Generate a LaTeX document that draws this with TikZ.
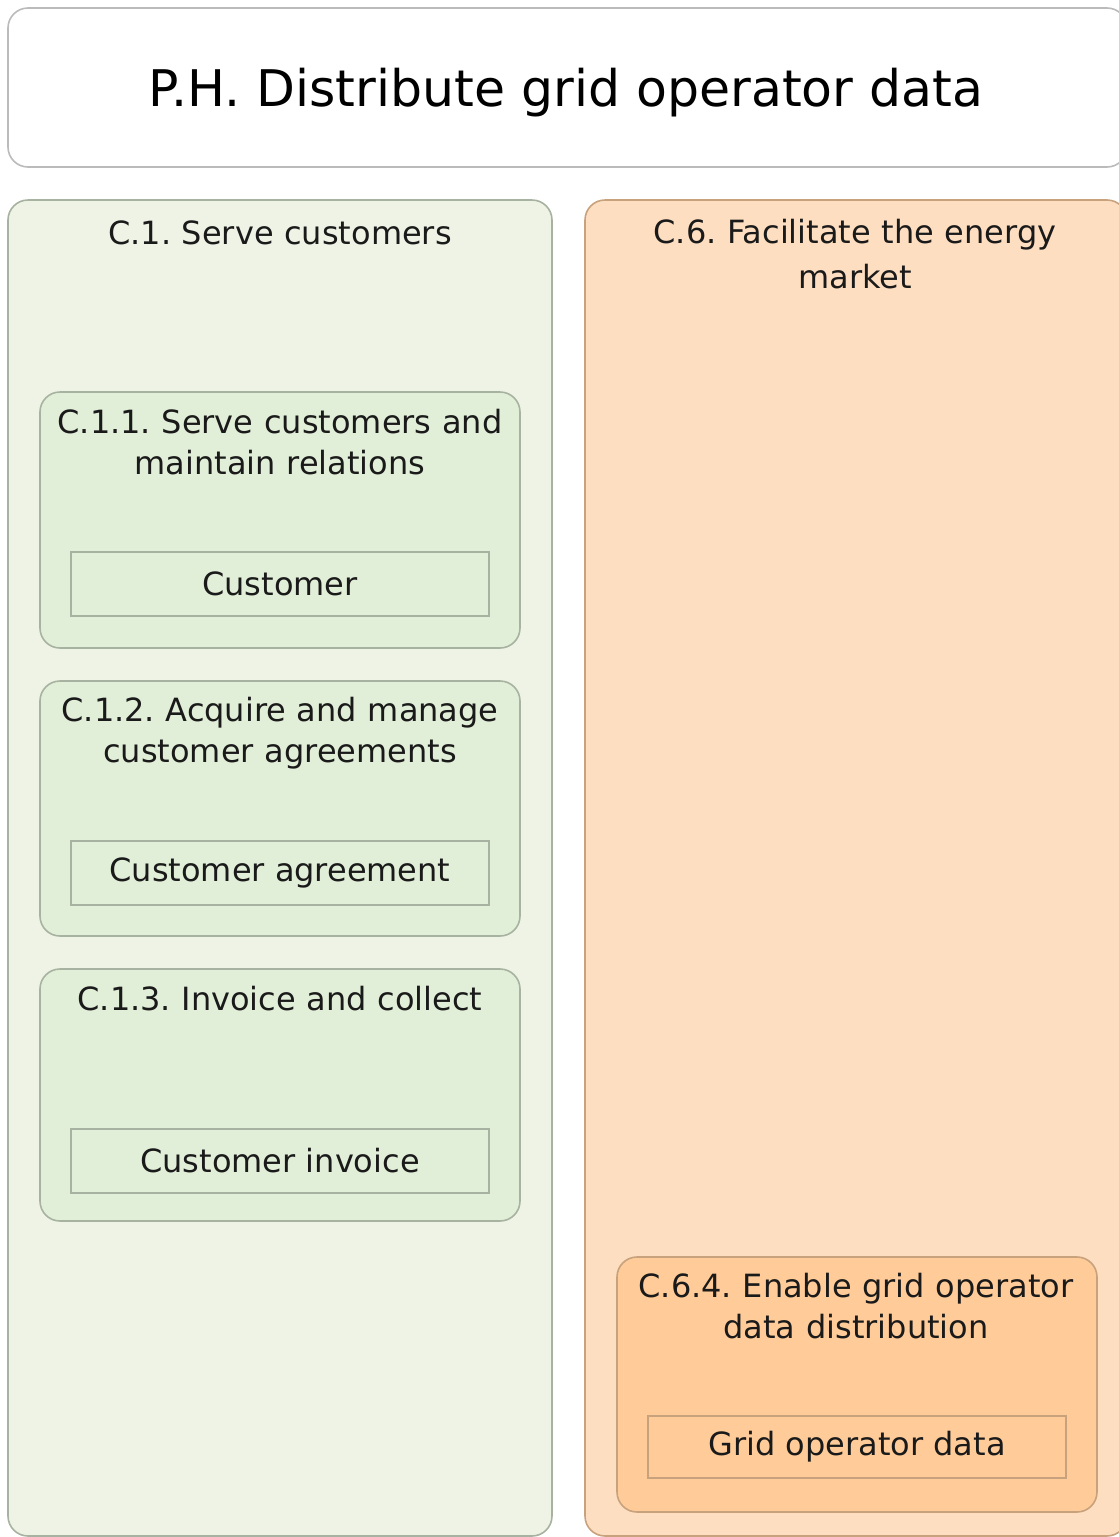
\documentclass[tikz,border=0pt]{standalone}
\usepackage{fontspec}
\setmainfont{DejaVu Sans}
\usepackage{tikz}
\usetikzlibrary{positioning}

\definecolor{greenouter}{HTML}{EEF3E5}
\definecolor{greeninner}{HTML}{E2EFD8}
\definecolor{greenline}{HTML}{A8B2A0}
\definecolor{peachouter}{HTML}{FDDEC1}
\definecolor{peachinner}{HTML}{FFCC99}
\definecolor{peachline}{HTML}{C8A27C}
\definecolor{greyline}{HTML}{BBBBBB}
\definecolor{textgrey}{HTML}{1A1A1A}

\begin{document}
\frenchspacing
\begin{tikzpicture}[x=1pt, y=-1pt, node distance=0pt,
    every node/.style={inner sep=0pt, outer sep=0pt, text=textgrey},
    panel/.style={draw, rounded corners=20pt, line width=1.6pt},
    entity/.style={draw, line width=1.4pt, minimum width=418pt},
    caption/.style={text width=470pt, align=center, anchor=base,
        font=\fontsize{32}{41}\selectfont}]
\useasboundingbox (0,0) rectangle (1119,1537);
\clip (0,0) rectangle (1119,1537);

% Title
\node[panel, draw=greyline, fill=white, minimum width=1119pt, minimum height=159pt]
    (ph) at (567.5,87.5) {};
\node[anchor=base, font=\fontsize{50.5}{60}\selectfont, text=black] (phtext) at (566,106)
    {P.H. Distribute grid operator data};

% Serve customers
\node[panel, draw=greenline, fill=greenouter, minimum width=544pt, minimum height=1336pt]
    (c1) at (280,868) {};
\node[caption] (c1text) at (280,244) {C.1. Serve customers};

\node[panel, draw=greenline, fill=greeninner, minimum width=480pt, minimum height=256pt]
    (c11) at (280,520) {};
\node[caption] (c11text) at (280,433) {C.1.1. Serve customers and\\maintain relations};
\node[entity, draw=greenline, minimum height=64pt, font=\fontsize{32}{41}\selectfont]
    (customer) at (280,584) {Customer};

\node[panel, draw=greenline, fill=greeninner, minimum width=480pt, minimum height=255pt]
    (c12) at (280,808.5) {};
\node[caption] (c12text) at (280,721) {C.1.2. Acquire and manage\\customer agreements};
\node[entity, draw=greenline, minimum height=64pt, font=\fontsize{32}{41}\selectfont]
    (agreement) at (280,873) {Customer agreement};

\node[panel, draw=greenline, fill=greeninner, minimum width=480pt, minimum height=252pt]
    (c13) at (280,1095) {};
\node[caption] (c13text) at (280,1010) {C.1.3. Invoice and collect};
\node[entity, draw=greenline, minimum height=64pt, font=\fontsize{32}{41}\selectfont]
    (invoice) at (280,1161) {Customer invoice};

% Facilitate the energy market
\node[panel, draw=peachline, fill=peachouter, minimum width=542pt, minimum height=1336pt]
    (c6) at (856,868) {};
\node[caption, font=\fontsize{32}{45}\selectfont] (c6text) at (855,243)
    {C.6. Facilitate the energy\\market};

\node[panel, draw=peachline, fill=peachinner, minimum width=480pt, minimum height=255pt]
    (c64) at (857,1384.5) {};
\node[caption] (c64text) at (856,1297) {C.6.4. Enable grid operator\\data distribution};
\node[entity, draw=peachline, minimum height=62pt, font=\fontsize{32}{41}\selectfont]
    (gridata) at (857,1447) {Grid operator data};
\end{tikzpicture}
\end{document}
